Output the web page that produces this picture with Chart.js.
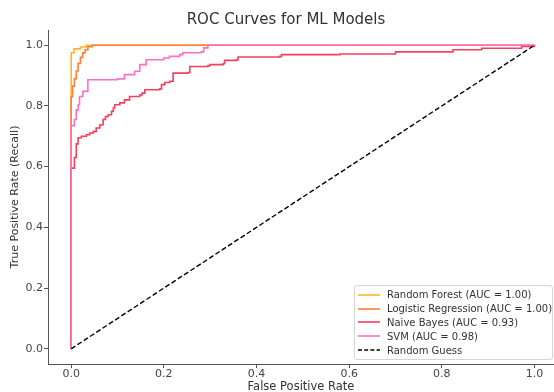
<!DOCTYPE html>
<html><head><meta charset="utf-8">
<script src="https://cdn.jsdelivr.net/npm/chart.js@4/dist/chart.umd.min.js"></script>
<style>
html,body{margin:0;padding:0;background:#fff;}
#wrap{position:relative;width:554px;height:392px;overflow:hidden;}
#c{display:block;}
#legend{position:absolute;left:354px;top:285px;width:199px;height:75px;border:1px solid #d6d6d6;border-radius:3px;background:rgba(255,255,255,0.8);font-family:"DejaVu Sans";font-size:10px;color:#333;box-sizing:border-box;padding-top:2px;}
.row{height:13.8px;display:flex;align-items:center;white-space:nowrap;}
.row svg{margin-left:3px;margin-right:7px;flex:none;}
</style></head><body>
<div id="wrap"><canvas id="c" width="554" height="392" style="width:554px;height:392px"></canvas><div id="legend"></div></div>
<script>
// ROC points (fpr, tpr) for each model
const fprRF = [0, 0, 0.006, 0.02, 0.032, 1];
const tprRF = [0, 0.975, 0.988, 0.994, 1, 1];

const fprLR = [0, 0, 0.003, 0.007, 0.011, 0.015, 0.02, 0.025, 0.03, 0.036, 0.046, 1];
const tprLR = [0, 0.83, 0.865, 0.89, 0.915, 0.94, 0.96, 0.975, 0.985, 0.995, 1, 1];

const fprNB = [0, 0, 0.007, 0.011, 0.015, 0.022, 0.033, 0.040, 0.048, 0.054, 0.062, 0.069, 0.074, 0.080, 0.087, 0.091, 0.094, 0.105, 0.115, 0.126, 0.148, 0.153, 0.159, 0.191, 0.195, 0.202, 0.213, 0.22, 0.252, 0.256, 0.295, 0.299, 0.328, 0.331, 0.357, 0.36, 0.45, 0.454, 0.58, 0.70, 0.824, 0.886, 0.972, 1];
const tprNB = [0, 0.595, 0.63, 0.675, 0.695, 0.70, 0.705, 0.711, 0.716, 0.727, 0.738, 0.755, 0.765, 0.771, 0.782, 0.793, 0.804, 0.81, 0.82, 0.831, 0.836, 0.842, 0.853, 0.856, 0.87, 0.877, 0.881, 0.908, 0.91, 0.93, 0.932, 0.936, 0.939, 0.95, 0.952, 0.961, 0.963, 0.969, 0.971, 0.978, 0.985, 0.99, 0.996, 1];

const fprSVM = [0, 0, 0.007, 0.011, 0.015, 0.018, 0.025, 0.036, 0.10, 0.115, 0.137, 0.148, 0.162, 0.20, 0.212, 0.234, 0.241, 0.281, 0.286, 0.295, 1];
const tprSVM = [0, 0.735, 0.755, 0.787, 0.804, 0.831, 0.848, 0.886, 0.889, 0.903, 0.914, 0.936, 0.952, 0.958, 0.963, 0.969, 0.975, 0.978, 0.991, 1, 1];

const fprGuess = [0, 1];
const tprGuess = [0, 1];

const seriesLabels = ['Random Forest (AUC = 1.00)', 'Logistic Regression (AUC = 1.00)', 'Naive Bayes (AUC = 0.93)', 'SVM (AUC = 0.98)', 'Random Guess'];
const axisTicks = [0, 0.2, 0.4, 0.6, 0.8, 1.0];

const colors = ['#ffb42e', '#ff7f3a', '#f43f5e', '#ff6ec7', '#000000'];

function pts(xs, ys) { return xs.map((x, i) => ({ x: x, y: ys[i] })); }

const FONT = 'DejaVu Sans';
function curve(i, xs, ys, order) {
  return { label: seriesLabels[i], data: pts(xs, ys), borderColor: colors[i], backgroundColor: colors[i],
    borderWidth: 1.6, pointRadius: 0, stepped: 'before', fill: false, order: order };
}

const datasets = [
  curve(0, fprRF, tprRF, 4),
  curve(1, fprLR, tprLR, 3),
  curve(2, fprNB, tprNB, 2),
  curve(3, fprSVM, tprSVM, 1),
  { label: seriesLabels[4], data: pts(fprGuess, tprGuess), borderColor: colors[4], borderWidth: 1.4,
    borderDash: [5, 2.5], pointRadius: 0, fill: false, order: 0, dash: true }
];

const shiftTitle = {
  id: 'shiftTitle',
  afterLayout(chart) { if (chart.titleBlock) { chart.titleBlock.left += 18; } }
};

function axis(min, max, titleText, isX) {
  return {
    type: 'linear', min: min, max: max,
    afterBuildTicks: s => { s.ticks = axisTicks.map(v => ({ value: v })); },
    afterFit: s => { if (isX) s.height = 28; else s.width = 48; },
    ticks: { callback: v => Number(v).toFixed(1), font: { family: FONT, size: 11 }, color: '#444',
      padding: isX ? 0 : 1, maxRotation: 0, autoSkip: false },
    grid: { drawOnChartArea: false, drawTicks: true, tickLength: 4, color: '#555', tickWidth: 1 },
    border: { display: true, color: '#555', width: 1 },
    title: { display: true, text: titleText, font: { family: FONT, size: isX ? 11.5 : 11 }, color: '#333',
      padding: isX ? { top: 0, bottom: -1.9 } : { top: 8.1, bottom: 0 } }
  };
}

const chart = new Chart(document.getElementById('c'), {
  type: 'line',
  data: { datasets: datasets },
  plugins: [shiftTitle],
  options: {
    responsive: false, animation: false,
    layout: { padding: 0 },
    plugins: {
      legend: { display: false },
      tooltip: { enabled: false },
      title: { display: true, text: 'ROC Curves for ML Models', color: '#333',
        font: { family: FONT, size: 15, weight: 'normal' }, padding: { top: 11, bottom: 1 } }
    },
    scales: {
      x: axis(-0.05, 1.042, 'False Positive Rate', true),
      y: axis(-0.05, 1.05, 'True Positive Rate (Recall)', false)
    }
  }
});

// legend built from the chart datasets
const leg = document.getElementById('legend');
chart.data.datasets.forEach(ds => {
  const row = document.createElement('div');
  row.className = 'row';
  const dash = ds.dash ? ' stroke-dasharray="4,2.2"' : '';
  row.innerHTML = '<svg width="22" height="4"><line x1="0" y1="2" x2="22" y2="2" stroke="' + ds.borderColor +
    '" stroke-width="1.6"' + dash + '/></svg><span>' + ds.label + '</span>';
  leg.appendChild(row);
});
</script>
</body></html>
